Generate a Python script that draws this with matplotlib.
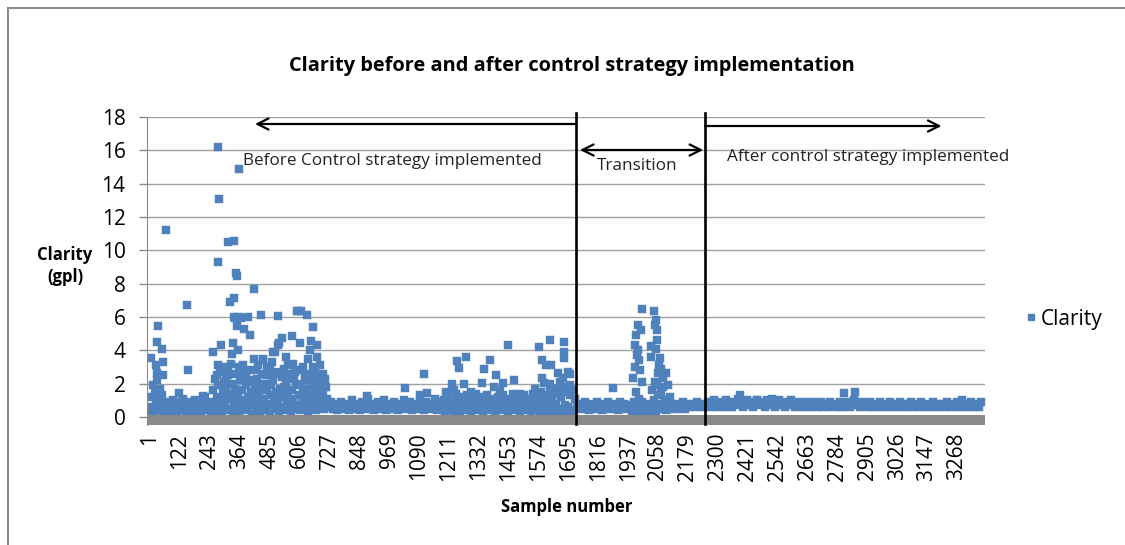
import numpy as np
import matplotlib
matplotlib.use("Agg")
import matplotlib.pyplot as plt
from matplotlib.lines import Line2D
from matplotlib.patches import Rectangle

plt.rcParams['font.family'] = ['Open Sans', 'DejaVu Sans']

# ---------------- data ----------------
# dense baseline readings, one every few samples
start_s1 = 1         # every 4 samples
band_s1 = [0.3, 1.2, 0.6, 1.9, 0.2, 1.5, 0.8, 2.2, 0.4, 1.0, 1.7, 0.5, 1.3, 0.2, 0.9]
start_s2 = 61        # every 4 samples
band_s2 = [0.6, 0.4, 0.8, 0.5, 0.9, 0.3, 0.7, 0.5, 1.0, 0.4, 0.6, 0.8, 0.3, 0.7, 0.5, 0.9,
           0.4, 0.6, 1.1, 0.5, 0.8, 0.3, 0.7, 0.6, 0.9, 0.4, 0.5, 0.8, 0.6, 0.3, 0.7, 1.0,
           0.5, 0.4, 0.8, 0.6, 0.9, 0.3, 0.7, 0.5, 0.6, 1.2, 0.4, 0.8, 0.5, 0.9, 0.6, 0.3]
start_s3 = 253       # every 4 samples
band_s3 = [0.4, 1.6, 0.8, 2.3, 0.2, 1.2, 1.9, 0.6, 2.7, 1.0, 0.3, 1.5, 2.1, 0.7, 1.8, 0.4,
           2.5, 1.1, 0.5, 1.4, 2.0, 0.2, 0.9, 1.7, 2.6, 0.6, 1.3, 0.3, 2.2, 1.0, 1.6, 0.5,
           2.4, 0.8, 1.9, 0.4, 1.2, 2.8, 0.7, 1.5, 0.2, 2.1, 1.0, 1.7, 0.5, 2.3, 0.9, 1.4,
           0.3, 1.8, 2.6, 0.6, 1.1, 2.0, 0.4, 1.6, 0.8, 2.5, 1.3, 0.2, 1.9, 0.7, 2.2, 1.0,
           0.5, 1.5, 2.7, 0.9, 0.3, 1.7, 1.2, 2.4, 0.6, 1.8, 0.4, 2.1, 1.0, 1.4, 0.8, 2.6,
           0.3, 1.6, 1.1, 2.3, 0.5, 1.9, 0.7, 2.8, 1.3, 0.4, 2.0, 1.0, 1.5, 0.6, 2.4, 0.9,
           1.7, 0.3, 2.2, 1.2, 0.5, 1.8, 2.6, 0.8, 1.4, 0.4, 2.1, 1.0, 1.6, 0.6, 2.3, 0.9,
           1.3, 0.5, 1.8, 0.7, 1.1]
start_s4 = 725       # every 8 samples
band_s4 = [0.6, 0.9, 0.5, 0.8, 0.4, 0.7, 0.9, 0.5, 0.6, 0.8, 0.4, 0.7, 1.0, 0.5, 0.8, 0.6,
           0.4, 0.9, 0.7, 0.5, 1.1, 0.6, 0.8, 0.4, 0.7, 0.9, 0.5, 0.6, 1.0, 0.4, 0.8, 0.6,
           0.5, 0.9, 0.7, 0.4, 0.8, 0.6, 1.0, 0.5, 0.7, 0.9, 0.4, 0.6, 0.8, 0.5, 1.0, 0.7,
           0.4, 0.9, 0.6, 0.5, 0.8, 0.7, 1.1, 0.4, 0.6, 0.9]
start_s5 = 1185      # every 5 samples
band_s5 = [0.5, 1.0, 0.3, 0.8, 1.3, 0.6, 0.4, 1.1, 0.7, 0.2, 0.9, 1.4, 0.5, 0.8, 0.3, 1.2,
           0.6, 1.0, 0.4, 0.7, 1.3, 0.5, 0.9, 0.3, 1.1, 0.6, 0.8, 1.4, 0.4, 0.7, 1.0, 0.5,
           1.2, 0.3, 0.9, 0.6, 1.3, 0.8, 0.4, 1.1, 0.5, 0.7, 1.0, 0.3, 0.9, 1.2, 0.6, 0.4,
           0.8, 1.3, 0.5, 1.0, 0.7, 0.3, 1.1, 0.6, 0.9, 1.4, 0.4, 0.8, 0.5, 1.2, 0.7, 0.3,
           1.0, 0.6, 1.3, 0.4, 0.9, 0.5, 1.1, 0.8, 0.2, 1.4, 0.6, 1.0, 0.4, 1.2, 0.7, 0.3,
           1.5, 0.9, 0.5, 1.1, 0.2, 1.3, 0.6, 1.6, 0.4, 1.0, 0.3, 1.4, 0.8, 0.2, 1.7, 0.5,
           1.2, 0.3, 1.5, 0.7, 0.2, 1.8, 0.6, 1.3, 0.4, 1.6, 0.3, 1.1]
start_s6 = 1729      # every 8 samples
band_s6 = [0.6, 0.8, 0.5, 0.7, 0.9, 0.6, 0.4, 0.8, 0.7, 0.5, 0.9, 0.6, 0.8, 0.4, 0.7, 0.6,
           0.9, 0.5, 0.8, 0.6, 0.7, 0.4, 0.9, 0.6, 0.8, 0.5, 0.7, 0.6, 0.3, 0.8, 0.2, 0.6,
           0.1, 0.9, 0.3, 0.5, 0.2, 0.8, 0.1, 0.6, 0.3, 0.7, 0.5, 0.8, 0.6, 0.4, 0.7, 0.9,
           0.5, 0.6, 0.8, 0.5, 0.7, 0.6, 0.9, 0.5, 0.8, 0.6, 0.7, 0.8, 0.6, 0.9, 0.7, 0.8,
           0.6]
start_s7 = 2252      # every 8 samples
band_s7 = [0.7, 0.9, 0.6, 0.8, 1.0, 0.6, 0.8, 0.7, 0.9, 0.6, 1.0, 0.7, 0.8, 0.6, 0.9, 0.8,
           1.1, 0.7, 0.9, 0.6, 0.8, 1.0, 0.7, 0.9, 0.6, 0.8, 1.0, 0.7, 0.9, 0.8, 0.6, 1.0,
           0.7, 0.8, 0.9, 0.6, 0.8, 1.0, 0.7, 0.9, 0.6, 0.8, 0.7, 1.0, 0.8, 0.6, 0.9, 0.7,
           0.8, 0.6, 0.9, 0.7, 0.8, 0.6, 0.9, 0.7, 0.6, 0.8, 0.9, 0.6, 0.7, 0.8, 0.6, 0.9,
           0.7, 0.8, 0.6, 0.7, 0.9, 0.6, 0.8, 0.7, 0.9, 0.6, 0.8, 1.0, 0.7, 0.8, 0.6, 0.9,
           0.7, 0.8, 0.6, 0.9, 0.7, 0.6, 0.8, 0.7, 0.9, 0.6, 0.8, 0.7, 0.6, 0.9, 0.7, 0.8,
           0.6, 0.7, 0.9, 0.6, 0.8, 0.7, 0.6, 0.8, 0.9, 0.6, 0.7, 0.8, 0.6, 0.9, 0.7, 0.6,
           0.8, 0.7, 0.6, 0.9, 0.7, 0.8, 0.6, 0.7, 0.8, 0.6, 0.9, 0.7, 0.6, 0.8, 0.7, 0.9,
           0.6, 0.8, 0.7, 0.6, 0.8, 0.7, 0.9, 0.6, 0.7, 0.8, 0.6, 0.9]

# individual readings standing clear of the baseline
peak_samples = [5, 25, 28, 31, 33, 48, 52, 55, 66, 118, 151, 155, 217, 257, 271, 275, 275,
                278, 280, 290, 298, 309, 318, 325, 332, 338, 340, 341, 341, 345, 351, 352,
                355, 358, 360, 361, 361, 368, 379, 380, 399, 407, 421, 421, 449, 457, 460,
                473, 500, 507, 518, 518, 524, 537, 550, 575, 595, 601, 607, 612, 635, 649,
                653, 662, 676, 678,
                300, 315, 330, 370, 390, 410, 430, 440, 470, 485, 495, 520, 545, 560, 580,
                590, 620, 630, 640, 660, 670, 690, 700, 710, 715,
                878, 1033, 1094, 1112, 1121, 1199, 1222, 1243, 1253, 1274, 1280, 1344, 1353,
                1378, 1394, 1404, 1431, 1452, 1475, 1577, 1587, 1590, 1597, 1606, 1620, 1620,
                1623, 1654, 1660, 1672, 1677, 1677, 1677, 1695, 1700, 1700, 1710, 1230, 1300,
                1420, 1500, 1560, 1640, 1685,
                1877, 1958, 1965, 1965, 1971, 1978, 1985, 1989, 1992, 1992, 2029, 2029, 2032,
                2042, 2050, 2050, 2052, 2053, 2059, 2066, 2072, 2079, 2079, 2092, 2099, 2105,
                1970, 1980, 1960, 2040, 2060, 2085, 1968, 1975, 1983, 2045, 2055, 2062, 2070,
                2047,
                2390, 2811, 2855, 2460, 2520, 3290]
peak_values = [3.54, 3.12, 4.5, 2.62, 5.46, 4.06, 2.55, 3.3, 11.22, 1.46, 6.7, 2.8, 1.26,
               3.9, 2.52, 16.2, 9.3, 3.1, 13.08, 4.34, 2.86, 2.42, 10.48, 6.92, 3.8, 4.42,
               5.98, 10.56, 7.16, 5.96, 8.66, 5.46, 8.48, 4.02, 14.86, 3.02, 5.98, 5.96, 3.12,
               5.26, 5.98, 4.94, 7.68, 3.46, 6.12, 3.42, 3.46, 3.02, 3.92, 3.92, 6.06, 4.32,
               4.42, 4.72, 3.6, 4.86, 6.36, 6.36, 4.42, 6.36, 6.12, 4.02, 4.58, 5.38, 4.32,
               3.62,
               3.0, 2.7, 3.2, 2.9, 2.6, 2.2, 2.8, 3.1, 2.5, 2.9, 3.3, 2.6, 2.9, 3.1, 3.2,
               2.7, 3.0, 2.6, 3.5, 3.0, 2.7, 3.1, 2.6, 2.3, 1.8,
               1.26, 1.72, 1.32, 2.58, 1.42, 1.52, 1.98, 3.38, 2.94, 1.98, 3.62, 2.06, 2.88,
               3.4, 1.82, 2.52, 2.06, 4.34, 2.24, 4.2, 2.32, 3.4, 2.02, 3.14, 4.64, 1.98,
               3.1, 2.62, 2.12, 2.32, 4.5, 3.9, 3.56, 2.7, 2.6, 1.9, 1.6, 1.6, 1.5,
               1.6, 1.4, 1.7, 1.5, 1.8,
               1.72, 2.32, 4.32, 3.02, 3.72, 5.52, 2.82, 5.22, 6.46, 2.12, 4.26, 3.62, 1.62,
               6.36, 5.82, 4.06, 1.92, 5.22, 2.62, 3.52, 1.42, 2.32, 1.82, 2.62, 1.92, 1.2,
               1.5, 1.1, 0.9, 1.0, 1.3, 1.0, 4.9, 4.0, 3.4, 5.5, 4.6, 3.1, 2.9,
               2.1,
               1.32, 1.42, 1.52, 1.05, 1.1, 1.05]

tick_samples = list(range(1, 3269, 121))
before_end = 1726
after_start = 2248

# ---------------- assemble ----------------
bands = [(start_s1, 4, band_s1), (start_s2, 4, band_s2), (start_s3, 4, band_s3),
         (start_s4, 8, band_s4), (start_s5, 5, band_s5), (start_s6, 8, band_s6),
         (start_s7, 8, band_s7)]
xs, ys = [], []
for s0, step, vals in bands:
    xs.extend(s0 + step * np.arange(len(vals)))
    ys.extend(vals)
xs.extend(peak_samples)
ys.extend(peak_values)

BLUE = '#4F81BD'
fig = plt.figure(figsize=(11.25, 5.45), dpi=100)
ax = fig.add_axes([147/1125, 1-424.5/545, (985-147)/1125, (424.5-117)/545])

ax.plot(xs, ys, 's', ms=5.6, color=BLUE, mec=BLUE, mew=0.3, zorder=2)

ax.set_xlim(-11, 3382)
ax.set_ylim(-0.45, 18)
ax.set_yticks(range(0, 19, 2))
ax.set_xticks(tick_samples)
ax.set_xticklabels([str(t) for t in tick_samples], rotation=90, va='top', ha='center')
ax.tick_params(axis='x', length=0, pad=6, labelsize=15)
ax.tick_params(axis='y', length=5.5, color='#8c8c8c', width=1, pad=10, labelsize=15)
ax.grid(axis='y', color='#a0a0a0', lw=1)
ax.set_axisbelow(True)
for sp in ['top', 'right', 'bottom']:
    ax.spines[sp].set_visible(False)
ax.spines['left'].set_color('#8c8c8c')
ax.axhspan(-0.45, 0.1, color='#898989', lw=0, zorder=3)

# section markers
for xv in [before_end, after_start]:
    ax.plot([xv, xv], [-0.42, 18.25], color='black', lw=1.9, clip_on=False, zorder=5)
ax.annotate('', xy=(426, 17.58), xytext=(before_end, 17.58),
            arrowprops=dict(arrowstyle='->', lw=1.6, color='black', mutation_scale=20,
                            shrinkA=0, shrinkB=0), annotation_clip=False)
ax.annotate('', xy=(1742, 16.02), xytext=(2241, 16.02),
            arrowprops=dict(arrowstyle='<->', lw=1.6, color='black', mutation_scale=20,
                            shrinkA=0, shrinkB=0), annotation_clip=False)
ax.annotate('', xy=(3206, 17.46), xytext=(after_start, 17.46),
            arrowprops=dict(arrowstyle='->', lw=1.6, color='black', mutation_scale=20,
                            shrinkA=0, shrinkB=0), annotation_clip=False)
ax.text(377, 15.36, 'Before Control strategy implemented', fontsize=12.3, va='center',
        ha='left', color='#222222')
ax.text(1975, 15.06, 'Transition', fontsize=12.3, va='center', ha='center', color='#222222')
ax.text(2337, 15.6, 'After control strategy implemented', fontsize=12.3, va='center',
        ha='left', color='#222222', clip_on=False)

fig.text(572/1125, 1-66/545, 'Clarity before and after control strategy implementation',
         ha='center', va='center', fontsize=14.4, fontweight='bold')
fig.text(65/1125, 1-266/545, 'Clarity\n(gpl)', ha='center', va='center', fontsize=12,
         fontweight='bold', linespacing=1.3)
fig.text(567/1125, 1-507/545, 'Sample number', ha='center', va='center', fontsize=12,
         fontweight='bold')

handle = Line2D([], [], marker='s', ls='none', color=BLUE, ms=5)
fig.legend([handle], ['Clarity'], loc='center left', bbox_to_anchor=(1012/1125, 1-319/545),
           frameon=False, fontsize=15, handlelength=0.8, handletextpad=0.1, borderpad=0)

fig.patches.append(Rectangle((8/1125, -0.05), 1.2, 1-8/545+0.05, transform=fig.transFigure,
                             fill=False, ec='#8c8c8c', lw=1.5))

fig.savefig('out.png', dpi=100)
